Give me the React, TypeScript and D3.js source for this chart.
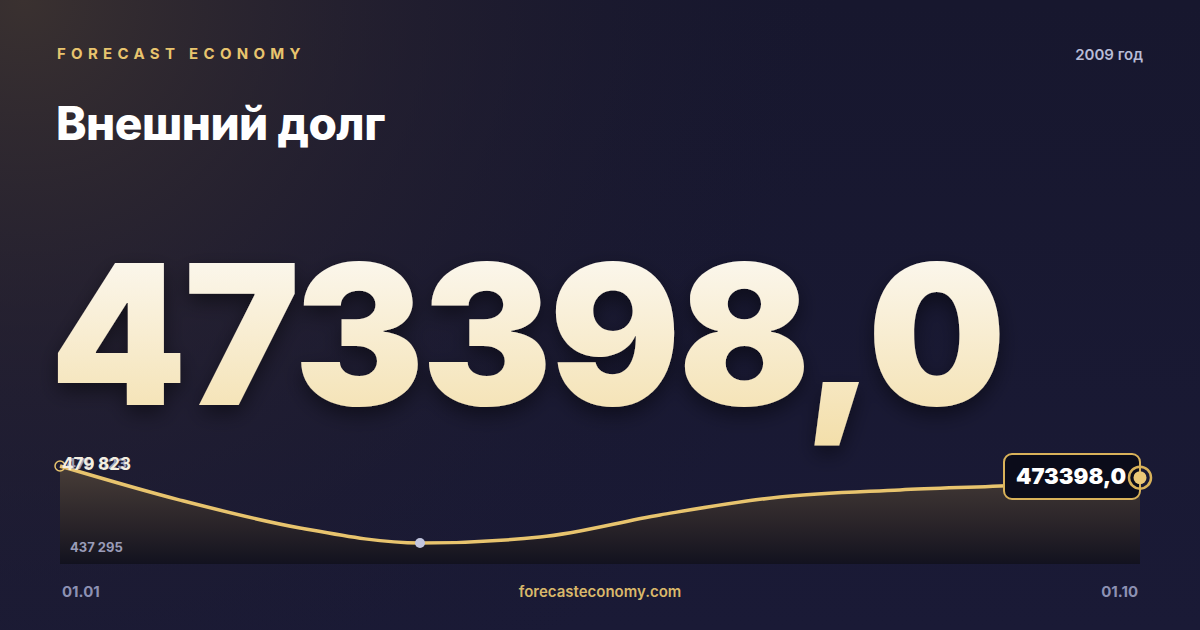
import React from "react";
import * as d3 from "d3";

const months = ["01.01", "01.02", "01.03", "01.04", "01.05", "01.06", "01.07", "01.08", "01.09", "01.10"];
const debt = [479823, 461000, 445600, 437295, 440600, 452800, 462700, 466600, 469300, 473398];
const title = "Внешний долг";
const brand = "FORECAST ECONOMY";
const yearLabel = "2009 год";
const site = "forecasteconomy.com";
const bigValue = "473398,0";

const W = 1200;
const H = 630;

const fmtSpace = (v: number) => d3.format(",")(v).replace(/,/g, " ");

export default function App() {
  const x = d3.scalePoint<string>().domain(months).range([60, 1140]);
  const minV = d3.min(debt) as number;
  const maxV = d3.max(debt) as number;
  const y = d3.scaleLinear().domain([minV, maxV]).range([543, 466]);
  const bottom = 564;

  const line = d3
    .line<number>()
    .x((_, i) => x(months[i]) as number)
    .y((d) => y(d))
    .curve(d3.curveMonotoneX);
  const area = d3
    .area<number>()
    .x((_, i) => x(months[i]) as number)
    .y0(bottom)
    .y1((d) => y(d))
    .curve(d3.curveMonotoneX);

  const minIdx = debt.indexOf(minV);
  const last = debt.length - 1;
  const lx = x(months[last]) as number;
  const ly = y(debt[last]);
  const sx = x(months[0]) as number;
  const sy = y(debt[0]);

  return (
    <svg
      width={W}
      height={H}
      viewBox={`0 0 ${W} ${H}`}
      style={{ position: "fixed", left: 0, top: 0, display: "block" }}
      fontFamily="Inter, 'Noto Sans', sans-serif"
    >
      <defs>
        <linearGradient id="bgBase" x1="0" y1="0" x2="0" y2="1">
          <stop offset="0" stopColor="#17172e" />
          <stop offset="1" stopColor="#1a1a36" />
        </linearGradient>
        <radialGradient id="glow" cx="0.02" cy="0" r="0.7" gradientTransform="scale(1,1.9)">
          <stop offset="0" stopColor="#3a3130" stopOpacity="1" />
          <stop offset="0.45" stopColor="#29232f" stopOpacity="0.55" />
          <stop offset="1" stopColor="#17172e" stopOpacity="0" />
        </radialGradient>
        <linearGradient id="bigFill" x1="0" y1="0" x2="0" y2="1">
          <stop offset="0" stopColor="#fdfcfb" />
          <stop offset="1" stopColor="#f3dea8" />
        </linearGradient>
        <linearGradient id="areaFill" x1="0" y1="0" x2="0" y2="1">
          <stop offset="0" stopColor="#4a3f38" stopOpacity="0.95" />
          <stop offset="0.6" stopColor="#2a2428" stopOpacity="0.95" />
          <stop offset="1" stopColor="#12121f" stopOpacity="1" />
        </linearGradient>
        <filter id="bigShadow" x="-10%" y="-10%" width="120%" height="140%">
          <feDropShadow dx="0" dy="8" stdDeviation="10" floodColor="#000000" floodOpacity="0.45" />
        </filter>
      </defs>

      <rect width={W} height={H} fill="url(#bgBase)" />
      <rect width={W} height={H} fill="url(#glow)" />

      <text x={57} y={59} fill="#e8c46e" fontSize={15} fontWeight={700} letterSpacing={5.3}>
        {brand}
      </text>
      <text x={1143} y={60} fill="#b8bcd6" fontSize={15} fontWeight={600} textAnchor="end">
        {yearLabel}
      </text>
      <text x={56} y={140} fill="#ffffff" fontSize={46} fontWeight={800} letterSpacing={-0.5}>
        {title}
      </text>

      <text
        x={50}
        y={405}
        fill="url(#bigFill)"
        fontSize={195}
        fontWeight={900}
        letterSpacing={-2.8}
        filter="url(#bigShadow)"
      >
        {bigValue}
      </text>

      <path d={area(debt) || ""} fill="url(#areaFill)" />
      <path d={line(debt) || ""} fill="none" stroke="#e8c46e" strokeWidth={3.5} />

      <circle cx={sx} cy={sy} r={5} fill="none" stroke="#e8c46e" strokeWidth={1.5} />
      <circle cx={x(months[minIdx]) as number} cy={y(minV)} r={5} fill="#c3c6de" />

      <text x={66} y={469} fill="#9a9cb8" fontSize={15} fontWeight={700}>
        {fmtSpace(maxV)}
      </text>
      <text x={62} y={470} fill="#f5efe0" fontSize={17} fontWeight={700}>
        {fmtSpace(debt[0])}
      </text>
      <text x={70} y={552} fill="#9a9cb8" fontSize={13} fontWeight={700}>
        {fmtSpace(minV)}
      </text>

      <rect x={1004} y={454} width={lx - 1004} height={45} rx={8} fill="#0b0c1a" stroke="#d9b25a" strokeWidth={2} />
      <text x={1071} y={484} fill="#ffffff" fontSize={22} fontWeight={900} textAnchor="middle">
        {bigValue}
      </text>
      <circle cx={lx} cy={ly} r={11} fill="none" stroke="#d9b25a" strokeWidth={2.5} />
      <circle cx={lx} cy={ly} r={6.5} fill="#ebc877" />

      <text x={62} y={597} fill="#8d91b3" fontSize={15} fontWeight={700}>
        {months[0]}
      </text>
      <text x={1138} y={597} fill="#8d91b3" fontSize={15} fontWeight={700} textAnchor="end">
        {months[last]}
      </text>
      <text x={600} y={597} fill="#d9b86a" fontSize={15} fontWeight={600} textAnchor="middle">
        {site}
      </text>
    </svg>
  );
}
